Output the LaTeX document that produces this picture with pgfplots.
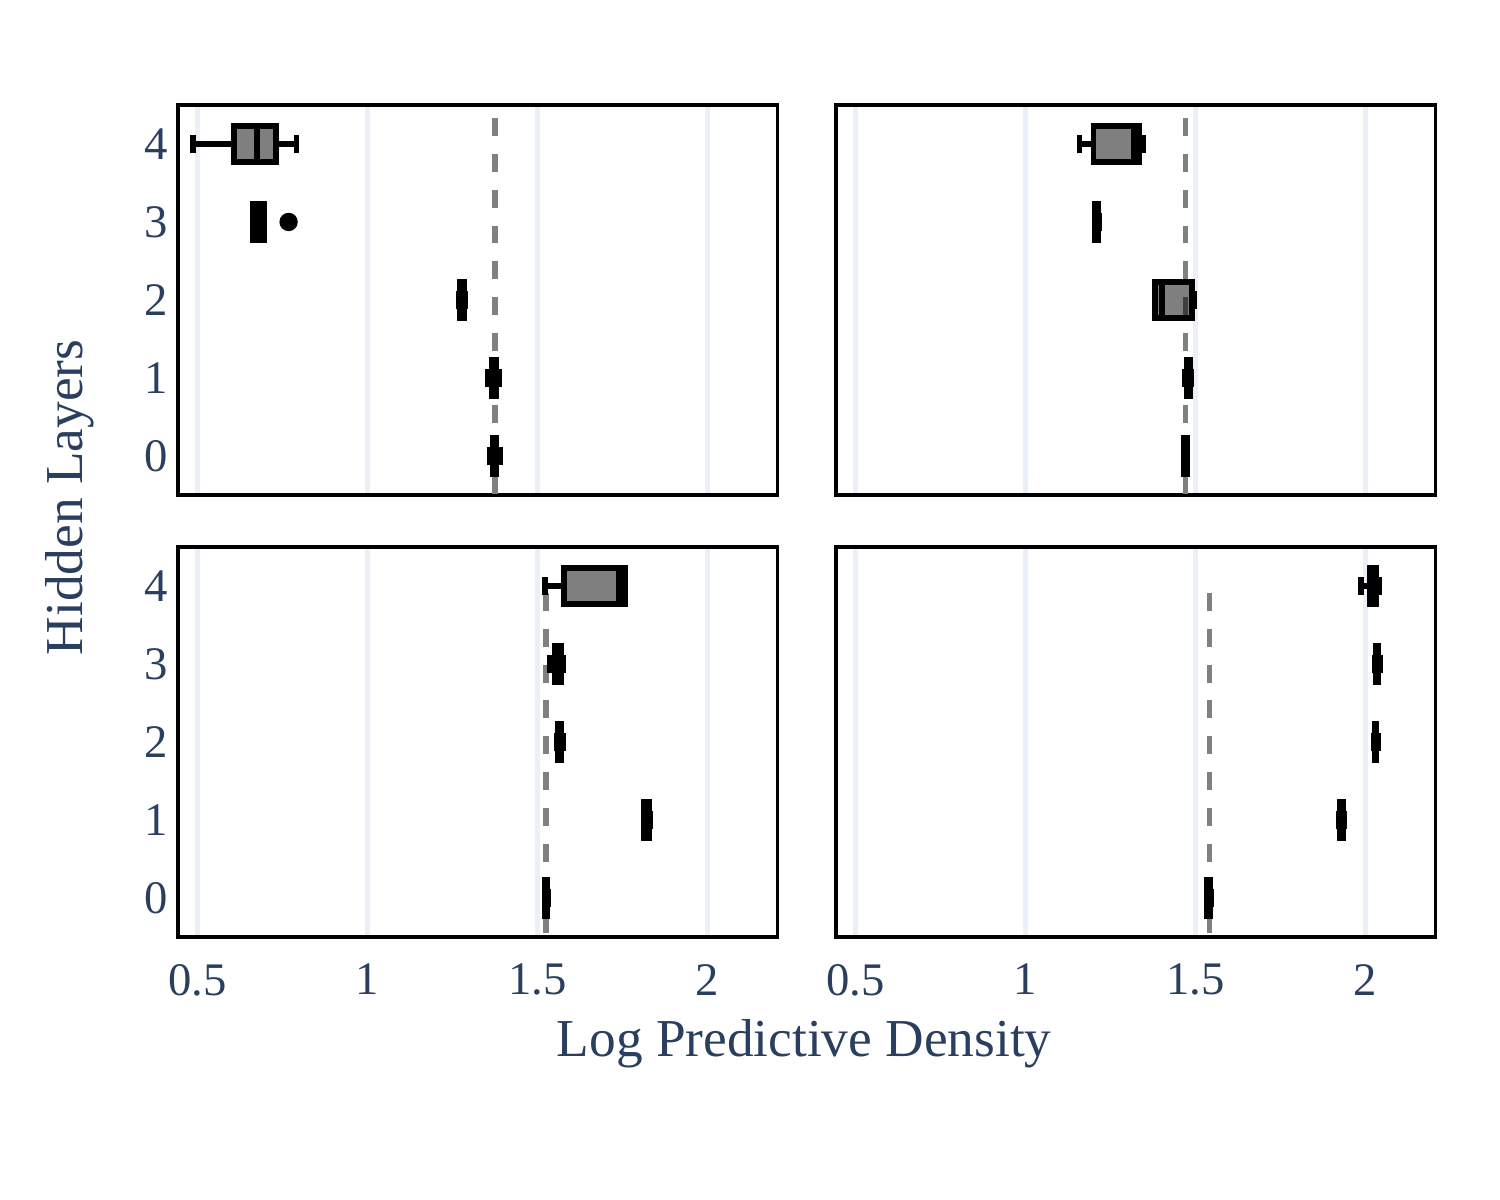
\documentclass[border=0pt]{standalone}
\usepackage{fontspec}
\setmainfont{Liberation Serif}
\usepackage{pgfplots}
\pgfplotsset{compat=1.18}
\usepgfplotslibrary{statistics}
\definecolor{textc}{HTML}{2A3F5F}
\definecolor{gridc}{HTML}{EBF0F8}
\definecolor{dashc}{HTML}{808080}
\pgfplotsset{
  panel/.style={
    scale only axis, width=143.88pt, height=93.6pt, anchor=south west,
    xmin=0.4427, xmax=2.2059, ymin=-0.5, ymax=4.5,
    xtick={0.5,1,1.5,2}, ytick={0,1,2,3,4},
    xmajorgrids, ymajorgrids=false,
    major grid style={color=gridc, line width=1.4pt},
    major tick length=0pt,
    axis line style={line width=0.9pt, black},
    tick label style={font=\fontsize{11.2}{13}\selectfont, text=textc},
    xticklabel style={yshift=-3.0pt},
    yticklabel style={xshift=1pt},
    /pgf/number format/assume math mode=true,
  },
  bx/.style={draw=black, fill=black, fill opacity=0.5, line width=1.4pt,
    boxplot/draw direction=x, boxplot/box extend=0.47, boxplot/whisker extend=0.24},
  dl/.style={color=dashc, line width=1.4pt, dash pattern=on 4.3pt off 4.3pt},
}
\newcommand{\bp}[6]{\addplot[bx, boxplot prepared={draw position=#1, lower whisker=#2, lower quartile=#3, median=#4, upper quartile=#5, upper whisker=#6}] coordinates {};}
\begin{document}
\begin{tikzpicture}
\path[use as bounding box] (0,0) rectangle (360pt,288pt);
% top left
\begin{axis}[panel, at={(42.72pt,169.2pt)}, xticklabels={}]
\addplot[dl] coordinates {(1.374,4.333) (1.374,-0.5)};
\bp{4}{0.488}{0.607}{0.676}{0.731}{0.791}
\bp{3}{0.662}{0.664}{0.680}{0.697}{0.697}
\addplot[only marks, mark=*, mark size=2pt, black] coordinates {(0.768,3)};
\bp{2}{1.269}{1.272}{1.278}{1.284}{1.288}
\bp{1}{1.353}{1.365}{1.372}{1.379}{1.388}
\bp{0}{1.359}{1.368}{1.374}{1.379}{1.391}
\end{axis}
% top right
\begin{axis}[panel, at={(200.64pt,169.2pt)}, xticklabels={}, yticklabels={}]
\addplot[dl] coordinates {(1.4706,4.333) (1.4706,-0.5)};
\bp{4}{1.159}{1.200}{1.318}{1.334}{1.346}
\bp{3}{1.203}{1.204}{1.209}{1.214}{1.215}
\bp{2}{1.381}{1.382}{1.401}{1.489}{1.496}
\bp{1}{1.468}{1.476}{1.480}{1.485}{1.486}
\bp{0}{1.465}{1.465}{1.469}{1.474}{1.476}
\end{axis}
% bottom left
\begin{axis}[panel, at={(42.72pt,63.12pt)}]
\addplot[dl] coordinates {(1.526,3.91) (1.526,-0.5)};
\bp{4}{1.521}{1.579}{1.740}{1.758}{1.758}
\bp{3}{1.538}{1.552}{1.561}{1.569}{1.575}
\bp{2}{1.557}{1.559}{1.564}{1.569}{1.575}
\bp{1}{1.812}{1.814}{1.821}{1.828}{1.830}
\bp{0}{1.522}{1.522}{1.526}{1.529}{1.531}
\end{axis}
% bottom right
\begin{axis}[panel, at={(200.64pt,63.12pt)}, yticklabels={}]
\addplot[dl] coordinates {(1.541,3.91) (1.541,-0.5)};
\bp{4}{1.988}{2.014}{2.024}{2.032}{2.039}
\bp{3}{2.027}{2.030}{2.034}{2.038}{2.042}
\bp{2}{2.024}{2.027}{2.029}{2.030}{2.036}
\bp{1}{1.923}{1.924}{1.929}{1.934}{1.936}
\bp{0}{1.535}{1.535}{1.540}{1.544}{1.546}
\end{axis}
\node[anchor=base, font=\fontsize{12.8}{15}\selectfont, text=textc] at (193pt,34.4pt) {Log Predictive Density};
\node[anchor=base, rotate=90, font=\fontsize{12.8}{15}\selectfont, text=textc] at (19.9pt,168.6pt) {Hidden Layers};
\end{tikzpicture}
\end{document}
